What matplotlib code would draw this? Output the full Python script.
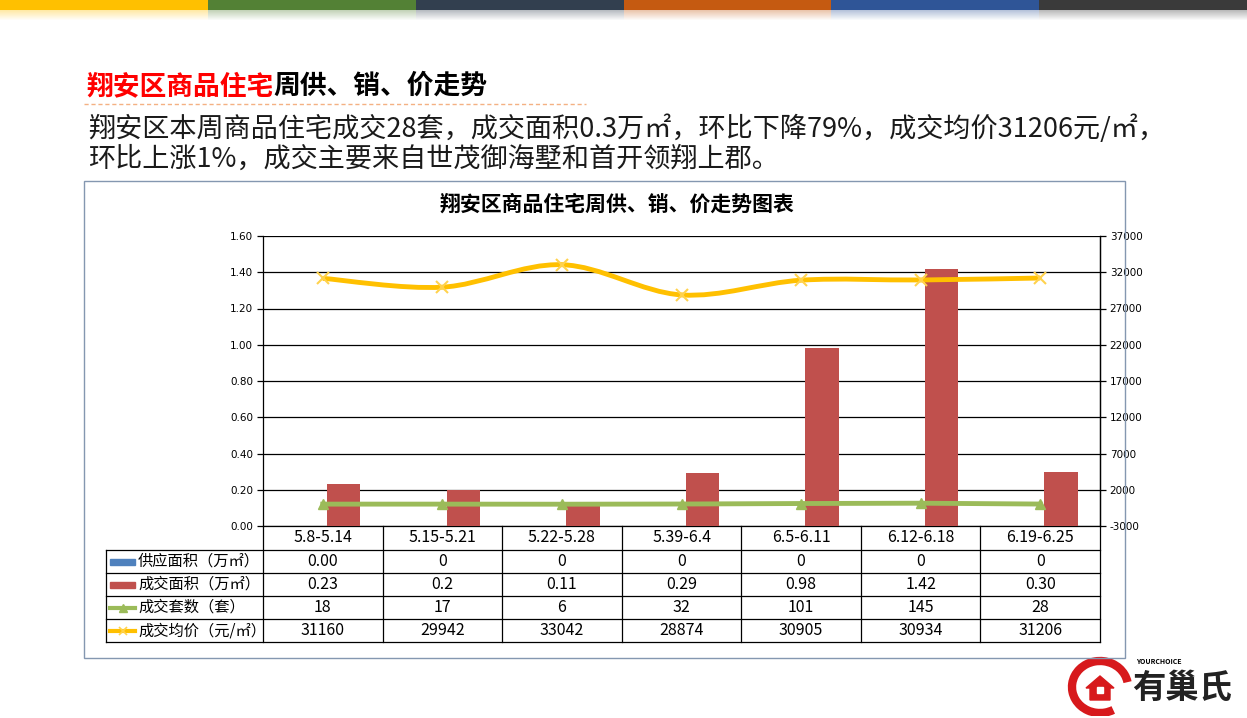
import numpy as np
import matplotlib
matplotlib.use('Agg')
import matplotlib.pyplot as plt
from matplotlib.patches import Rectangle, Polygon, Arc
from matplotlib.path import Path
from matplotlib.patches import PathPatch
from matplotlib.lines import Line2D

plt.rcParams['font.family'] = ['Noto Sans CJK SC', 'DejaVu Sans']

# 数据
weeks = ['5.8-5.14', '5.15-5.21', '5.22-5.28', '5.39-6.4', '6.5-6.11', '6.12-6.18', '6.19-6.25']
supply_area = [0.00, 0, 0, 0, 0, 0, 0]
deal_area = [0.23, 0.2, 0.11, 0.29, 0.98, 1.42, 0.30]
deal_units = [18, 17, 6, 32, 101, 145, 28]
avg_price = [31160, 29942, 33042, 28874, 30905, 30934, 31206]

supply_labels = ['0.00', '0', '0', '0', '0', '0', '0']
area_labels = ['0.23', '0.2', '0.11', '0.29', '0.98', '1.42', '0.30']

series_names = ['供应面积（万㎡）', '成交面积（万㎡）', '成交套数（套）', '成交均价（元/㎡）']

c_blue = '#4F81BD'
c_red = '#C0504D'
c_green = '#9BBB59'
c_yellow = '#FFC000'

W, H = 1247, 718
fig = plt.figure(figsize=(W / 100, H / 100), dpi=100)


def fx(x):
    return x / W


def fy(y):
    return 1 - y / H


# 顶部彩条
bar_colors = ['#FFC000', '#538135', '#323F4F', '#C55A11', '#2F5597', '#3A3A3A']
seg = W / len(bar_colors)
for i, col in enumerate(bar_colors):
    fig.patches.append(Rectangle((fx(i * seg), fy(10)), seg / W, 10 / H,
                                 transform=fig.transFigure, color=col, lw=0))
    for k in range(10):
        fig.patches.append(Rectangle((fx(i * seg), fy(11 + k)), seg / W, 1 / H,
                                     transform=fig.transFigure, color=col, lw=0,
                                     alpha=0.35 * (1 - k / 10)))

# 标题
t1 = fig.text(fx(86), fy(86), '翔安区商品住宅', color='#FF0000', fontsize=19.3,
              fontweight='bold', va='center', ha='left')
fig.canvas.draw()
bb = t1.get_window_extent()
fig.text(bb.x1 / W, fy(86), '周供、销、价走势', color='black', fontsize=19.3,
         fontweight='bold', va='center', ha='left')
fig.add_artist(Line2D([fx(84), fx(586)], [fy(104), fy(104)], transform=fig.transFigure,
                      color='#F4B183', lw=1, ls=(0, (3, 2))))

fig.text(fx(88), fy(129), '翔安区本周商品住宅成交28套，成交面积0.3万㎡，环比下降79%，成交均价31206元/㎡，',
         fontsize=19.5, va='center', ha='left', color='#1a1a1a')
fig.text(fx(88), fy(159), '环比上涨1%，成交主要来自世茂御海墅和首开领翔上郡。',
         fontsize=19.5, va='center', ha='left', color='#1a1a1a')

# 图表外框
fig.patches.append(Rectangle((fx(84), fy(658)), (1125 - 84) / W, (658 - 181) / H,
                             transform=fig.transFigure, fill=False, ec='#8497B0', lw=1))
fig.text(fx(617), fy(204), '翔安区商品住宅周供、销、价走势图表', fontsize=15,
         fontweight='bold', ha='center', va='center')

# 主图
ax = fig.add_axes([fx(263), fy(526), (1100 - 263) / W, (526 - 236) / H])
x = np.arange(len(weeks))
bw = 0.28
ax.bar(x - 0.105, supply_area, bw, color=c_blue, zorder=3)
ax.bar(x + 0.175, deal_area, bw, color=c_red, zorder=3)
ax.set_xlim(-0.5, len(weeks) - 0.5)
ax.set_ylim(0, 1.6)
ax.set_yticks(np.arange(0, 1.61, 0.2))
ax.set_yticklabels(['%.2f' % v for v in np.arange(0, 1.61, 0.2)], fontsize=7.5,
                   family='DejaVu Sans')
ax.set_xticks([])
ax.grid(axis='y', color='black', lw=0.9, zorder=0)
ax.spines['top'].set_visible(False)
for s in ['left', 'right', 'bottom']:
    ax.spines[s].set_color('black')
    ax.spines[s].set_linewidth(0.9)
ax.tick_params(axis='y', length=4, width=0.9, pad=3)

ax2 = ax.twinx()
ax2.set_ylim(-3000, 37000)
ax2.set_yticks(np.arange(-3000, 37001, 5000))
ax2.set_yticklabels([str(v) for v in np.arange(-3000, 37001, 5000)], fontsize=7.5,
                    family='DejaVu Sans')
ax2.tick_params(axis='y', length=4, width=0.9, pad=3)
for s in ['top', 'left', 'bottom']:
    ax2.spines[s].set_visible(False)
ax2.spines['right'].set_linewidth(0.9)

ax2.plot(x, deal_units, color=c_green, lw=3.5, marker='^', ms=7, zorder=4)


# 平滑曲线（均价）
def smooth_path(xs, ys):
    pts = np.column_stack([xs, ys]).astype(float)
    n = len(pts)
    verts = [pts[0]]
    codes = [Path.MOVETO]
    for i in range(n - 1):
        p0 = pts[i - 1] if i > 0 else pts[i]
        p1 = pts[i]
        p2 = pts[i + 1]
        p3 = pts[i + 2] if i + 2 < n else pts[i + 1]
        c1 = p1 + (p2 - p0) / 6
        c2 = p2 - (p3 - p1) / 6
        verts += [c1, c2, p2]
        codes += [Path.CURVE4] * 3
    return Path(verts, codes)


ax2.add_patch(PathPatch(smooth_path(x, avg_price), fill=False, ec=c_yellow, lw=3.5, zorder=5))
ax2.plot(x, avg_price, ls='none', marker='x', ms=9, mew=1.5, color='#FFD24D', zorder=6)

# 数据表
tax = fig.add_axes([fx(106), fy(642), (1100 - 106) / W, (642 - 526) / H])
left = -0.5 - (263 - 106) / ((1100 - 263) / len(weeks))
tax.set_xlim(left, len(weeks) - 0.5)
tax.set_ylim(116, 0)
tax.axis('off')
lk = dict(color='black', lw=0.9, clip_on=False)
for k in range(len(weeks) + 1):
    tax.plot([k - 0.5, k - 0.5], [0, 116], **lk)
tax.plot([left, left], [24, 116], **lk)
for yy in [24, 47, 70, 93, 116]:
    tax.plot([left, len(weeks) - 0.5], [yy, yy], **lk)
for i, w in enumerate(weeks):
    tax.text(i, 12, w, ha='center', va='center', fontsize=11.5)

rows = [supply_labels, area_labels, [str(v) for v in deal_units], [str(v) for v in avg_price]]
for r, vals in enumerate(rows):
    yc = 24 + 23 * r + 11.5
    for i, v in enumerate(vals):
        tax.text(i, yc, v, ha='center', va='center', fontsize=11.5)

unit = (1100 - 263) / len(weeks)
kx0 = left + 4 / unit
kx1 = left + 29 / unit
tax.add_patch(Rectangle((kx0, 24 + 11.5 - 3), kx1 - kx0, 6, color=c_blue, clip_on=False))
tax.add_patch(Rectangle((kx0, 47 + 11.5 - 3), kx1 - kx0, 6, color=c_red, clip_on=False))
tax.plot([kx0, kx1], [70 + 11.5, 70 + 11.5], color=c_green, lw=3, clip_on=False)
tax.plot([(kx0 + kx1) / 2], [70 + 11.5], marker='^', color=c_green, ms=6, clip_on=False)
tax.plot([kx0, kx1], [93 + 11.5, 93 + 11.5], color=c_yellow, lw=3, clip_on=False)
tax.plot([(kx0 + kx1) / 2], [93 + 11.5], marker='x', color='#FFD24D', ms=6, mew=1.2, clip_on=False)
for r, name in enumerate(series_names):
    tax.text(left + 32 / unit, 24 + 23 * r + 11.5, name, ha='left', va='center', fontsize=11)

# 标志
lax = fig.add_axes([fx(1062), fy(716), 185 / W, 62 / H])
lax.set_xlim(0, 185)
lax.set_ylim(62, 0)
lax.axis('off')
lax.add_patch(Arc((38, 33), 56, 52, angle=0, theta1=60, theta2=350, color='#D7191C', lw=6))
lax.add_patch(Polygon([[24, 34], [38, 22], [52, 34], [48, 34], [48, 46], [28, 46], [28, 34]],
                      closed=True, color='#D7191C'))
lax.add_patch(Rectangle((35, 33), 6, 6, color='white'))
lax.text(74, 8, 'YOURCHOICE', fontsize=5, style='italic', fontweight='bold', va='center')
lax.text(70, 34, '有巢氏', fontsize=24, fontweight='bold', va='center', ha='left', color='#222222')

fig.savefig('out.png', dpi=100)
